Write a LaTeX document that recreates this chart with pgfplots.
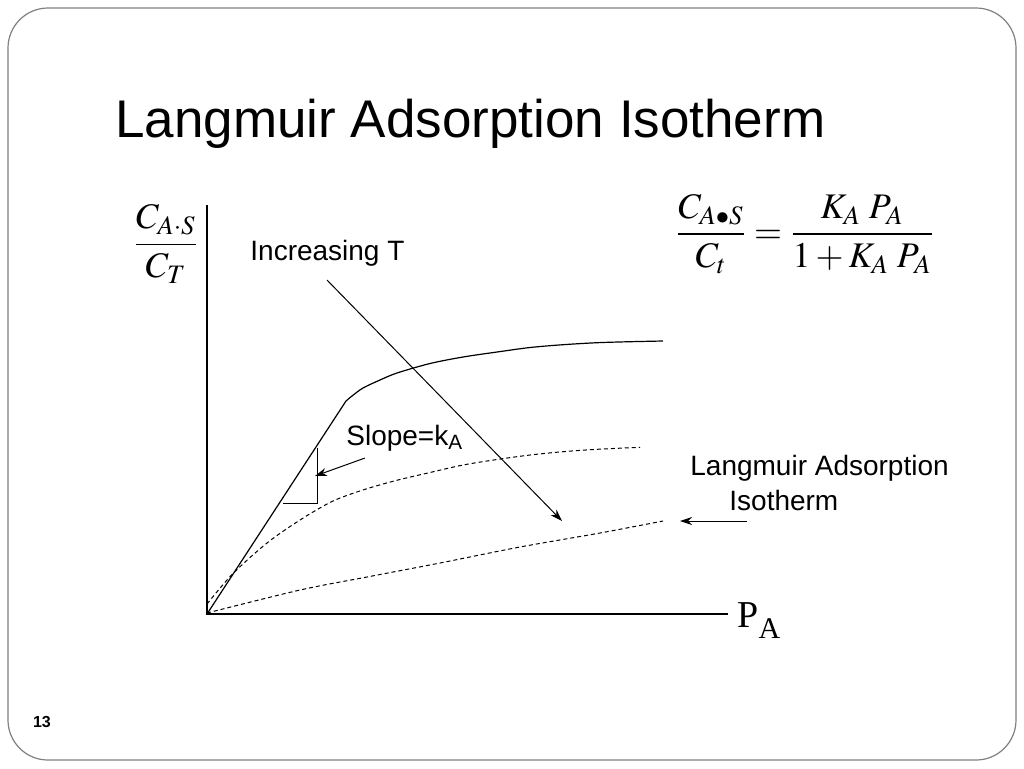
\documentclass[border=0pt]{standalone}
\usepackage{amsmath}
\usepackage{mathptmx}
\usepackage[no-math]{fontspec}
\setmainfont{Liberation Sans}
\newfontfamily\timesf{Liberation Serif}
\usepackage{pgfplots}
\pgfplotsset{compat=1.18}
\usetikzlibrary{arrows.meta}

% one axis unit = one pixel of the 1024x768 slide, y grows downwards
\pgfplotstableread{
x y
207 614
346 401
}\steepline
\pgfplotstableread{
x y
346 401
352 396
363 388
380 380
397 373
430 363.5
463 357
497 352
530 347.5
563 344.7
597 342.7
630 341.7
663 341
}\plateau
\pgfplotstableread{
x y
207 604
233 573.5
267 543
300 520
333 501
366 489
398 480
430 472.5
463 465
497 459.5
530 455
563 451.7
597 449.3
640 447.3
}\midcurve
\pgfplotstableread{
x y
207 613
300 590
367 577
440 563
520 547
600 533
663 521
}\lowcurve

\begin{document}
\begin{tikzpicture}
\begin{axis}[
    scale only axis,
    width=512pt, height=384pt,
    xmin=0, xmax=1024, ymin=0, ymax=768,
    y dir=reverse,
    hide axis,
    clip=false,
]
\path[fill=white] (axis cs:0,0) rectangle (axis cs:1024,768);
\draw[black!50, line width=0.6pt, rounded corners=20pt] (axis cs:8,8) rectangle (axis cs:1016,760);

% axes
\addplot[black, line width=0.6pt] coordinates {(207,205) (207,614) (728,614)};

% curves
\addplot[black, line width=0.6pt] table {\steepline};
\addplot[black, line width=0.6pt, smooth] table {\plateau};
\addplot[black, line width=0.5pt, smooth, dash pattern=on 2pt off 1.5pt] table {\midcurve};
\addplot[black, line width=0.5pt, smooth, dash pattern=on 2pt off 1.5pt] table {\lowcurve};

% slope triangle
\addplot[black, line width=0.5pt] coordinates {(317,448) (317,503) (283,503)};

% arrows
\addplot[black, line width=0.5pt, -{Stealth[length=6pt,width=4pt]}] coordinates {(327,280) (562,521)};
\addplot[black, line width=0.5pt, -{Stealth[length=6pt,width=4pt]}] coordinates {(365,458) (315,476)};
\addplot[black, line width=0.5pt, -{Stealth[length=6pt,width=4pt]}] coordinates {(747,521) (680,521)};

% texts
\tikzset{lbl/.style={anchor=base west, inner sep=0pt, font=\fontsize{14}{17}\selectfont}}
\node[anchor=base west, inner sep=0pt, font=\fontsize{26.5}{30}\selectfont] at (axis cs:115,137) {Langmuir Adsorption Isotherm};
\node[lbl] at (axis cs:250,260) {Increasing T};
\node[lbl] at (axis cs:346,445) {Slope=k\textsubscript{A}};
\node[lbl] at (axis cs:690,475) {Langmuir Adsorption};
\node[lbl] at (axis cs:729,510) {Isotherm};
\node[anchor=center, font=\fontsize{18}{22}\selectfont] at (axis cs:166,244) {$\dfrac{C_{A\cdot S}}{C_T}$};
\node[anchor=center, font=\fontsize{18}{22}\selectfont] at (axis cs:805,234) {$\dfrac{C_{A\bullet S}}{C_t}=\dfrac{K_{A}\;P_{A}}{1+K_{A}\;P_{A}}$};
\node[anchor=base west, inner sep=0pt, font=\timesf\fontsize{19}{23}\selectfont] at (axis cs:737,627) {P\raisebox{-5.5pt}{\fontsize{15}{15}\selectfont A}};
\node[anchor=center, font=\bfseries\fontsize{8}{10}\selectfont] at (axis cs:42,722) {13};
\end{axis}
\end{tikzpicture}
\end{document}
